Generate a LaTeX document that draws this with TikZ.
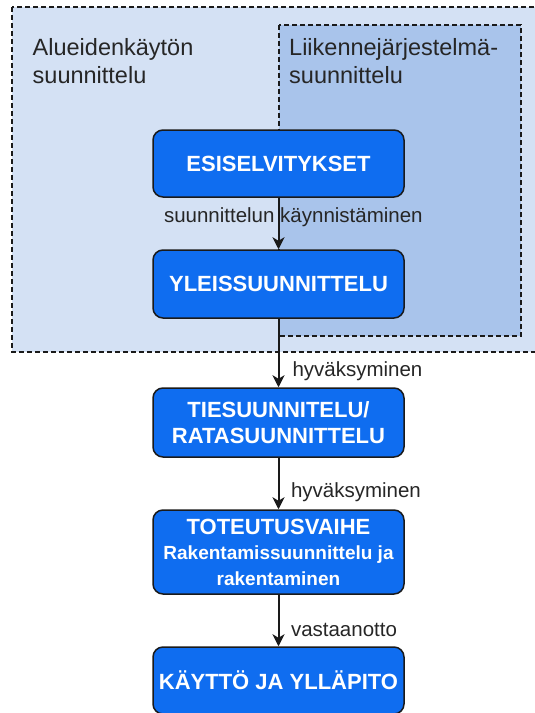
\documentclass[tikz,border=0pt]{standalone}
\usepackage{fontspec}
\setmainfont{Liberation Sans}
\usetikzlibrary{arrows.meta}

\definecolor{outerfill}{HTML}{D4E1F4}
\definecolor{innerfill}{HTML}{A9C4EB}
\definecolor{stepfill}{HTML}{0F6DF0}
\definecolor{edgeline}{HTML}{1A1A1A}
\definecolor{labeltext}{HTML}{262626}

\newcommand{\subline}{\fontsize{19}{23}\selectfont}

\tikzset{
  zone/.style={draw=edgeline, line width=1.1pt, dash pattern=on 5pt off 3pt},
  stepbox/.style={draw=edgeline, fill=stepfill, line width=1.5pt, rounded corners=10pt,
    minimum width=251pt, inner sep=0pt, text=white, align=center,
    font=\bfseries\fontsize{22}{26}\selectfont},
  zonetitle/.style={anchor=base west, inner sep=0pt, align=left, text=labeltext,
    font=\fontsize{23.5}{28}\selectfont},
  flow/.style={draw=edgeline, line width=2pt,
    -{Stealth[length=12pt, width=12pt, inset=3.5pt]}},
  flowlabel/.style={inner sep=0pt, text=labeltext, font=\fontsize{20.5}{24}\selectfont},
}

\begin{document}
\begin{tikzpicture}[x=1pt, y=-1pt]
  \useasboundingbox (0,0) rectangle (535,713);

  % planning zones
  \path[zone, fill=outerfill] (12,7) rectangle (548,352);
  \node[zonetitle] (zoneA) at (32.5,83) {Alueidenkäytön\\suunnittelu};
  \path[zone, fill=innerfill] (279,25) rectangle (521,336);
  \node[zonetitle] (zoneB) at (289,83) {Liikennejärjestelmä-\\suunnittelu};

  % process steps
  \node[stepbox, minimum height=67pt] (s1) at (278.5,163.5) {ESISELVITYKSET};
  \node[stepbox, minimum height=68pt] (s2) at (278.5,284) {YLEISSUUNNITTELU};
  \node[stepbox, minimum height=69pt] (s3) at (278.5,422.5) {TIESUUNNITELU/\\RATASUUNNITTELU};
  \node[stepbox, minimum height=84pt] (s4) at (278.5,552)
    {TOTEUTUSVAIHE\\[-1pt]\subline Rakentamissuunnittelu ja\\\subline rakentaminen};
  \node[stepbox, minimum height=67pt] (s5) at (278.5,680.5) {KÄYTTÖ JA YLLÄPITO};

  % transitions
  \draw[flow] (s1.south) -- node[flowlabel, pos=0.38, anchor=west, xshift=-115.5pt] {suunnittelun käynnistäminen} (s2.north);
  \draw[flow] (s2.south) -- node[flowlabel, pos=0.77, anchor=west, xshift=13pt] {hyväksyminen} (s3.north);
  \draw[flow] (s3.south) -- node[flowlabel, pos=0.67, anchor=west, xshift=11.5pt] {hyväksyminen} (s4.north);
  \draw[flow] (s4.south) -- node[flowlabel, pos=0.685, anchor=west, xshift=11.5pt] {vastaanotto} (s5.north);
\end{tikzpicture}
\end{document}
